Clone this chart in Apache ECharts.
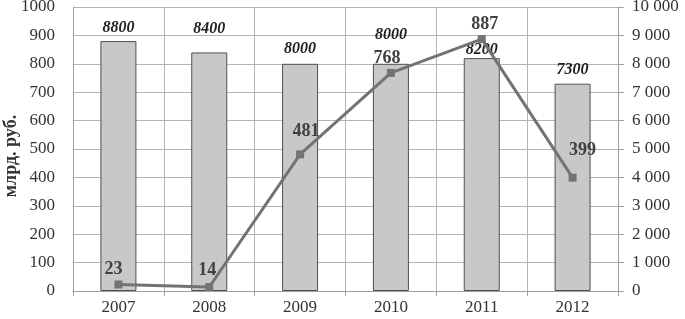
<!DOCTYPE html>
<html><head><meta charset="utf-8">
<script src="https://cdn.jsdelivr.net/npm/echarts@6/dist/echarts.min.js"></script>
<style>html,body{margin:0;padding:0;background:#fff}#c{width:685px;height:319px}</style>
</head><body><div id="c"></div>
<script>
const years = ['2007','2008','2009','2010','2011','2012'];
const barValues = [8800, 8400, 8000, 8000, 8200, 7300];
const lineValues = [23, 14, 481, 768, 887, 399];
const leftTicks = [0,100,200,300,400,500,600,700,800,900,1000];
const rightTicks = [0,1000,2000,3000,4000,5000,6000,7000,8000,9000,10000];
const yName = 'млрд. руб.';

// label layout (pixel gaps/offsets, style only)
const barLabelGap = [5, 16, 7, 21, 0, 6];
const lineLabelOffset = [[-5,0],[-2,-2],[6,-8],[-4,0],[3,0],[10,-12]];

const FONT = '"Liberation Serif","Times New Roman",serif';
const chart = echarts.init(document.getElementById('c'));
chart.setOption({
  animation: false,
  grid: {left: 73, right: 67, top: 7, bottom: 28, containLabel: false, outerBoundsMode: 'none'},
  graphic: [{
    type: 'text', x: 11, y: 156, rotation: Math.PI / 2,
    style: {text: yName, align: 'center', verticalAlign: 'middle',
      font: 'bold 18px ' + FONT, fill: '#333'}
  }],
  xAxis: {
    type: 'category', data: years, boundaryGap: true,
    axisLine: {show: true, lineStyle: {color: '#a0a0a0', width: 1}},
    axisTick: {show: true, length: 5, lineStyle: {color: '#a0a0a0'}},
    axisLabel: {fontFamily: FONT, fontSize: 17, color: '#333', margin: 8},
    splitLine: {show: true, lineStyle: {color: '#b4b4b4', width: 1}}
  },
  yAxis: [{
    type: 'value', min: leftTicks[0], max: leftTicks[leftTicks.length-1], interval: 100,
    axisLine: {show: true, lineStyle: {color: '#a0a0a0'}},
    axisTick: {show: false},
    axisLabel: {fontFamily: FONT, fontSize: 17, color: '#333', margin: 18, formatter: v => String(v)},
    splitLine: {show: true, lineStyle: {color: '#b4b4b4', width: 1}}
  },{
    type: 'value', min: rightTicks[0], max: rightTicks[rightTicks.length-1], interval: 1000,
    axisLine: {show: true, lineStyle: {color: '#a0a0a0'}},
    axisTick: {show: true, length: 6, lineStyle: {color: '#a0a0a0'}},
    axisLabel: {fontFamily: FONT, fontSize: 17, color: '#333', margin: 14,
      formatter: v => String(v).replace(/\B(?=(\d{3})+(?!\d))/g, ' ')},
    splitLine: {show: false}
  }],
  series: [{
    type: 'bar', yAxisIndex: 1, barWidth: 36, z: 2,
    data: barValues.map((v, i) => ({value: v, label: {distance: barLabelGap[i]}})),
    itemStyle: {color: '#c8c8c8', borderColor: '#505050', borderWidth: 1},
    label: {show: true, position: 'top', fontFamily: FONT, fontSize: 16, fontWeight: 'bold',
      fontStyle: 'italic', color: '#222'}
  },{
    type: 'line', yAxisIndex: 0, z: 5,
    data: lineValues.map((v, i) => ({value: v, label: {offset: lineLabelOffset[i]}})),
    symbol: 'rect', symbolSize: 8,
    lineStyle: {color: '#737373', width: 3},
    itemStyle: {color: '#737373'},
    label: {show: true, position: 'top', distance: 2, fontFamily: FONT, fontSize: 18,
      fontWeight: 'bold', color: '#404040'}
  }]
});
</script></body></html>
